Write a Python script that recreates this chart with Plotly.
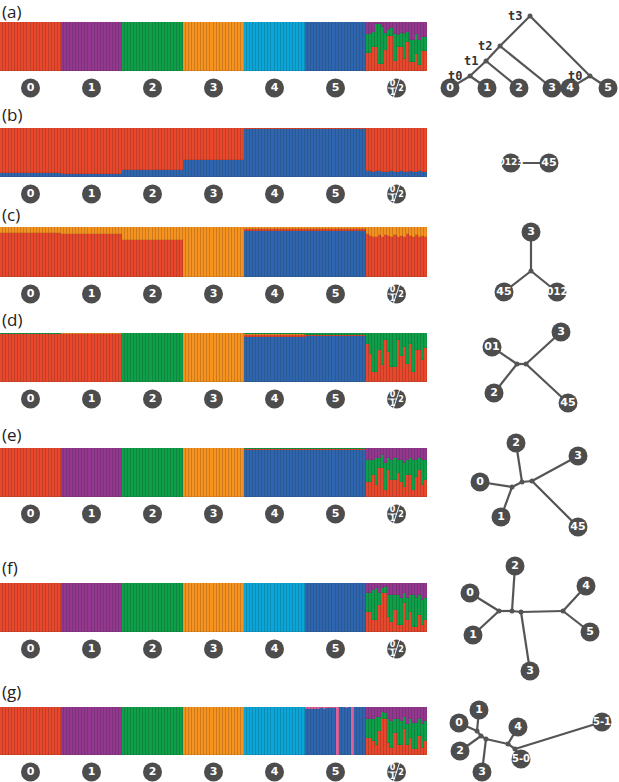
import plotly.graph_objects as go

W, H = 619, 782
BAR_W_PX = 427
N_PER_GROUP = 20
N_GROUPS = 7
N_TOTAL = N_PER_GROUP * N_GROUPS

COLORS = {"red": "#E8472B", "purple": "#93378F", "green": "#0E9F49", "orange": "#F6921E",
          "cyan": "#0BA6D8", "blue": "#2E65AF", "pink": "#E0629B"}
DARK = "#4D4D4D"
GROUP_LABELS = ["0", "1", "2", "3", "4", "5"]
PANEL_LABELS = ["(a)", "(b)", "(c)", "(d)", "(e)", "(f)", "(g)"]

# ---------------- ancestry proportions: group-level (groups 0..5) + admixed individuals ----------------
# panel (a)
A_CYAN = [0, 0, 0, 0, 1, 0]
A_BLUE = [0, 0, 0, 0, 0, 1]
A_RED = [1, 0, 0, 0, 0, 0]
A_GREEN = [0, 0, 1, 0, 0, 0]
A_PURPLE = [0, 1, 0, 0, 0, 0]
A_ORANGE = [0, 0, 0, 1, 0, 0]
A_ADMIX_RED = [0.36, 0.36, 0.50, 0.50, 0.15, 0.15, 0.42, 0.72, 0.72, 0.20, 0.48, 0.48, 0.25, 0.60, 0.18, 0.18, 0.35, 0.12, 0.40, 0.40]
A_ADMIX_GREEN = [0.40, 0.40, 0.30, 0.45, 0.80, 0.75, 0.35, 0.12, 0.15, 0.55, 0.25, 0.30, 0.50, 0.20, 0.45, 0.45, 0.40, 0.52, 0.30, 0.30]
A_ADMIX_PURPLE = [0.24, 0.24, 0.20, 0.05, 0.05, 0.10, 0.23, 0.16, 0.13, 0.25, 0.27, 0.22, 0.25, 0.20, 0.37, 0.37, 0.25, 0.36, 0.30, 0.30]

# panel (b)
B_BLUE = [0.08, 0.07, 0.14, 0.35, 0.97, 0.98]
B_RED = [0.92, 0.93, 0.86, 0.65, 0.03, 0.02]
B_ADMIX_BLUE = [0.12, 0.12, 0.11, 0.12, 0.12, 0.11, 0.10, 0.11, 0.12, 0.10, 0.11, 0.12, 0.10, 0.11, 0.12, 0.10, 0.11, 0.12, 0.10, 0.11]
B_ADMIX_RED = [0.88, 0.88, 0.89, 0.88, 0.88, 0.89, 0.90, 0.89, 0.88, 0.90, 0.89, 0.88, 0.90, 0.89, 0.88, 0.90, 0.89, 0.88, 0.90, 0.89]

# panel (c)
C_BLUE = [0.01, 0.01, 0.01, 0.0, 0.92, 0.93]
C_RED = [0.88, 0.86, 0.73, 0.01, 0.04, 0.04]
C_ORANGE = [0.11, 0.13, 0.26, 0.99, 0.04, 0.03]
C_ADMIX_BLUE = [0.01, 0.01, 0.01, 0.01, 0.01, 0.01, 0.01, 0.01, 0.01, 0.01, 0.01, 0.01, 0.01, 0.01, 0.01, 0.01, 0.01, 0.01, 0.01, 0.01]
C_ADMIX_RED = [0.86, 0.82, 0.80, 0.80, 0.84, 0.79, 0.83, 0.81, 0.80, 0.84, 0.80, 0.82, 0.79, 0.85, 0.81, 0.80, 0.83, 0.80, 0.82, 0.79]
C_ADMIX_ORANGE = [0.13, 0.17, 0.19, 0.19, 0.15, 0.20, 0.16, 0.18, 0.19, 0.15, 0.19, 0.17, 0.20, 0.14, 0.18, 0.19, 0.16, 0.19, 0.17, 0.20]

# panel (d)
D_BLUE = [0.01, 0.01, 0.0, 0.0, 0.91, 0.94]
D_RED = [0.96, 0.96, 0.01, 0.01, 0.05, 0.01]
D_ORANGE = [0.01, 0.02, 0.0, 0.98, 0.01, 0.01]
D_GREEN = [0.02, 0.01, 0.99, 0.01, 0.03, 0.04]
D_ADMIX_RED = [0.78, 0.58, 0.20, 0.20, 0.65, 0.34, 0.85, 0.61, 0.30, 0.30, 0.85, 0.54, 0.71, 0.37, 0.78, 0.20, 0.65, 0.65, 0.45, 0.70]
D_ADMIX_GREEN = [0.22, 0.42, 0.80, 0.80, 0.35, 0.66, 0.15, 0.39, 0.70, 0.70, 0.15, 0.46, 0.29, 0.63, 0.22, 0.80, 0.35, 0.35, 0.55, 0.30]

# panel (e)
E_BLUE = [0, 0, 0, 0, 0.95, 0.96]
E_RED = [0.99, 0, 0, 0, 0.03, 0.02]
E_GREEN = [0, 0, 0.99, 0, 0.02, 0.02]
E_PURPLE = [0.01, 1, 0.01, 0, 0, 0]
E_ORANGE = [0, 0, 0, 1, 0, 0]
E_ADMIX_RED = [0.30, 0.30, 0.45, 0.25, 0.60, 0.60, 0.15, 0.55, 0.35, 0.35, 0.50, 0.30, 0.20, 0.45, 0.45, 0.15, 0.40, 0.55, 0.25, 0.35]
E_ADMIX_GREEN = [0.45, 0.45, 0.30, 0.55, 0.20, 0.25, 0.55, 0.25, 0.40, 0.45, 0.25, 0.45, 0.50, 0.30, 0.35, 0.60, 0.35, 0.25, 0.50, 0.40]
E_ADMIX_PURPLE = [0.25, 0.25, 0.25, 0.20, 0.20, 0.15, 0.30, 0.20, 0.25, 0.20, 0.25, 0.25, 0.30, 0.25, 0.20, 0.25, 0.25, 0.20, 0.25, 0.25]

# panel (f)
F_CYAN = [0, 0, 0, 0, 1, 0]
F_BLUE = [0, 0, 0, 0, 0, 1]
F_RED = [1, 0, 0, 0, 0, 0]
F_GREEN = [0, 0, 1, 0, 0, 0]
F_PURPLE = [0, 1, 0, 0, 0, 0]
F_ORANGE = [0, 0, 0, 1, 0, 0]
F_ADMIX_RED = [0.40, 0.40, 0.25, 0.25, 0.55, 0.80, 0.80, 0.30, 0.20, 0.45, 0.15, 0.15, 0.60, 0.25, 0.40, 0.10, 0.10, 0.35, 0.15, 0.25]
F_ADMIX_GREEN = [0.40, 0.40, 0.60, 0.65, 0.25, 0.10, 0.12, 0.45, 0.55, 0.30, 0.60, 0.55, 0.20, 0.45, 0.35, 0.65, 0.60, 0.40, 0.50, 0.45]
F_ADMIX_PURPLE = [0.20, 0.20, 0.15, 0.10, 0.20, 0.10, 0.08, 0.25, 0.25, 0.25, 0.25, 0.30, 0.20, 0.30, 0.25, 0.25, 0.30, 0.25, 0.35, 0.30]

# panel (g)
G_CYAN = [0, 0, 0, 0, 1, 0]
G_RED = [1, 0, 0, 0, 0, 0]
G_GREEN = [0, 0, 1, 0, 0, 0]
G_PURPLE = [0, 1, 0, 0, 0, 0]
G_ORANGE = [0, 0, 0, 1, 0, 0]
G_GROUP5_BLUE = [0.95, 0.96, 0.95, 0.96, 0.95, 0.97, 0.96, 0.97, 0.98, 0.98, 0.0, 0.99, 0.99, 0.98, 0.99, 0.0, 0.99, 0.99, 0.99, 0.99]
G_GROUP5_PINK = [0.05, 0.04, 0.05, 0.04, 0.05, 0.03, 0.04, 0.03, 0.02, 0.02, 1.0, 0.01, 0.01, 0.02, 0.01, 1.0, 0.01, 0.01, 0.01, 0.01]
G_ADMIX_RED = [0.35, 0.35, 0.30, 0.20, 0.50, 0.75, 0.75, 0.25, 0.15, 0.45, 0.20, 0.20, 0.55, 0.20, 0.35, 0.12, 0.12, 0.40, 0.15, 0.30]
G_ADMIX_GREEN = [0.40, 0.40, 0.45, 0.60, 0.30, 0.15, 0.12, 0.50, 0.55, 0.30, 0.55, 0.50, 0.25, 0.45, 0.40, 0.55, 0.55, 0.35, 0.50, 0.40]
G_ADMIX_PURPLE = [0.25, 0.25, 0.25, 0.20, 0.20, 0.10, 0.13, 0.25, 0.30, 0.25, 0.25, 0.30, 0.20, 0.35, 0.25, 0.33, 0.33, 0.25, 0.35, 0.30]

ZERO6 = [0, 0, 0, 0, 0, 0]
ZERO20 = [0] * N_PER_GROUP

# stacking order bottom -> top: (colour, group values, admixed values, optional per-individual group-5 override)
PANELS = [
    [("cyan", A_CYAN, ZERO20, None), ("blue", A_BLUE, ZERO20, None), ("red", A_RED, A_ADMIX_RED, None),
     ("green", A_GREEN, A_ADMIX_GREEN, None), ("purple", A_PURPLE, A_ADMIX_PURPLE, None), ("orange", A_ORANGE, ZERO20, None)],
    [("blue", B_BLUE, B_ADMIX_BLUE, None), ("red", B_RED, B_ADMIX_RED, None)],
    [("blue", C_BLUE, C_ADMIX_BLUE, None), ("red", C_RED, C_ADMIX_RED, None), ("orange", C_ORANGE, C_ADMIX_ORANGE, None)],
    [("blue", D_BLUE, ZERO20, None), ("red", D_RED, D_ADMIX_RED, None), ("orange", D_ORANGE, ZERO20, None),
     ("green", D_GREEN, D_ADMIX_GREEN, None)],
    [("blue", E_BLUE, ZERO20, None), ("red", E_RED, E_ADMIX_RED, None), ("green", E_GREEN, E_ADMIX_GREEN, None),
     ("purple", E_PURPLE, E_ADMIX_PURPLE, None), ("orange", E_ORANGE, ZERO20, None)],
    [("cyan", F_CYAN, ZERO20, None), ("blue", F_BLUE, ZERO20, None), ("red", F_RED, F_ADMIX_RED, None),
     ("green", F_GREEN, F_ADMIX_GREEN, None), ("purple", F_PURPLE, F_ADMIX_PURPLE, None), ("orange", F_ORANGE, ZERO20, None)],
    [("cyan", G_CYAN, ZERO20, None), ("blue", ZERO6, ZERO20, G_GROUP5_BLUE), ("red", G_RED, G_ADMIX_RED, None),
     ("green", G_GREEN, G_ADMIX_GREEN, None), ("purple", G_PURPLE, G_ADMIX_PURPLE, None), ("orange", G_ORANGE, ZERO20, None),
     ("pink", ZERO6, ZERO20, G_GROUP5_PINK)],
]

# vertical layout of each panel in pixels: (label y, bar top, bar bottom)
PANEL_PX = [(11, 22, 71), (114, 128, 177), (214, 227, 277), (319, 333, 382),
            (434, 448, 497), (567, 583, 632), (691, 707, 755)]

# ---------------- trees (pixel positions in the right column) ----------------
TREES = [
    {"nodes": {"t3": (530, 16), "t2": (500, 46), "t1": (486, 61), "t0a": (470, 76), "t0b": (590, 76),
               "0": (450, 88), "1": (487, 88), "2": (519, 88), "3": (552, 88), "4": (570, 88), "5": (608, 88)},
     "edges": [("t3", "t2"), ("t3", "t0b"), ("t2", "t1"), ("t2", "3"), ("t1", "t0a"), ("t1", "2"),
               ("t0a", "0"), ("t0a", "1"), ("t0b", "4"), ("t0b", "5")],
     "leaves": ["0", "1", "2", "3", "4", "5"],
     "times": {"t3": "t3", "t2": "t2", "t1": "t1", "t0a": "t0", "t0b": "t0"}},
    {"nodes": {"0123": (511, 163), "45": (549, 163)},
     "edges": [("0123", "45")], "leaves": ["0123", "45"]},
    {"nodes": {"3": (531, 232), "c": (531, 271), "45": (504, 292), "012": (557, 292)},
     "edges": [("3", "c"), ("c", "45"), ("c", "012")], "leaves": ["3", "45", "012"]},
    {"nodes": {"01": (492, 347), "3": (561, 332), "2": (494, 393), "45": (568, 403), "n1": (517, 364), "n2": (526, 364)},
     "edges": [("01", "n1"), ("2", "n1"), ("n1", "n2"), ("n2", "3"), ("n2", "45")], "leaves": ["01", "3", "2", "45"]},
    {"nodes": {"2": (516, 443), "3": (578, 456), "0": (480, 482), "1": (501, 517), "45": (578, 527),
               "n1": (512, 487), "n2": (522, 482), "n3": (532, 481)},
     "edges": [("0", "n1"), ("1", "n1"), ("n1", "n2"), ("2", "n2"), ("n2", "n3"), ("3", "n3"), ("45", "n3")],
     "leaves": ["2", "3", "0", "1", "45"]},
    {"nodes": {"2": (515, 566), "0": (470, 593), "4": (586, 586), "1": (473, 635), "5": (590, 632), "3": (530, 671),
               "n1": (499, 611), "n2": (512, 611), "n3": (521, 612), "n4": (563, 611)},
     "edges": [("0", "n1"), ("1", "n1"), ("n1", "n2"), ("2", "n2"), ("n2", "n3"), ("3", "n3"), ("n3", "n4"),
               ("4", "n4"), ("5", "n4")],
     "leaves": ["2", "0", "4", "1", "5", "3"]},
    {"nodes": {"1": (479, 710), "0": (459, 723), "2": (460, 751), "3": (482, 772), "4": (518, 727),
               "5-0": (521, 759), "5-1": (602, 722), "n1": (477, 731), "n2": (481, 736), "n3": (486, 739),
               "n4": (508, 744), "n5": (515, 749)},
     "edges": [("1", "n1"), ("0", "n1"), ("n1", "n2"), ("2", "n2"), ("n2", "n3"), ("3", "n3"), ("n3", "n4"),
               ("4", "n4"), ("n4", "n5"), ("n5", "5-0"), ("n5", "5-1")],
     "leaves": ["1", "0", "2", "3", "4", "5-0", "5-1"]},
]

fig = go.Figure()
layout = dict(width=W, height=H, margin=dict(l=0, r=0, t=0, b=0, autoexpand=False), paper_bgcolor="white",
              plot_bgcolor="rgba(0,0,0,0)", showlegend=False, barmode="stack", bargap=0)

x_idx = list(range(N_TOTAL))
for p, comps in enumerate(PANELS):
    ax = p + 1
    xa, ya = ("x" if ax == 1 else f"x{ax}"), ("y" if ax == 1 else f"y{ax}")
    _, top, bot = PANEL_PX[p]
    for cname, gvals, admix, g5 in comps:
        ys = []
        for g in range(6):
            if g == 5 and g5 is not None:
                ys.extend(g5)
            else:
                ys.extend([gvals[g]] * N_PER_GROUP)
        ys.extend(admix)
        ys = [v if v > 0 else None for v in ys]
        fig.add_trace(go.Bar(x=x_idx, y=ys, width=1, xaxis=xa, yaxis=ya,
                             marker=dict(color=COLORS[cname], line=dict(width=0.35, color="rgba(40,40,40,0.3)")),
                             hoverinfo="skip"))
    layout[f"xaxis{'' if ax == 1 else ax}"] = dict(domain=[0, BAR_W_PX / W], range=[-0.5, N_TOTAL - 0.5],
                                                    visible=False, fixedrange=True)
    layout[f"yaxis{'' if ax == 1 else ax}"] = dict(domain=[1 - bot / H, 1 - top / H], range=[0, 1],
                                                    visible=False, fixedrange=True, anchor=xa)

# overlay axis in pixel space
layout["xaxis8"] = dict(domain=[0, 1], range=[0, W], visible=False, anchor="y8", fixedrange=True)
layout["yaxis8"] = dict(domain=[0, 1], range=[H, 0], visible=False, anchor="x8", fixedrange=True)

annotations = []
lab_x, lab_y, lab_t = [], [], []
icon_x, icon_y = [], []
icon_lines_x, icon_lines_y = [], []
small_x, small_y, small_t = [], [], []
for p in range(7):
    ly, top, bot = PANEL_PX[p]
    annotations.append(dict(x=0, y=ly, xref="x8", yref="y8", text=PANEL_LABELS[p], showarrow=False,
                            xanchor="left", yanchor="middle",
                            font=dict(family="Open Sans, DejaVu Sans", size=17, color="#222")))
    cy = bot + 17
    for g in range(7):
        cx = (g * N_PER_GROUP + N_PER_GROUP / 2) / N_TOTAL * BAR_W_PX
        if g < 6:
            lab_x.append(cx); lab_y.append(cy); lab_t.append(GROUP_LABELS[g])
        else:
            icon_x.append(cx); icon_y.append(cy)
            icon_lines_x += [cx + 3, cx - 3, None, cx - 9, cx, None]
            icon_lines_y += [cy - 9, cy + 9, None, cy, cy, None]
            small_x += [cx - 4, cx - 4, cx + 4.5]
            small_y += [cy - 4, cy + 4.5, cy + 0.5]
            small_t += ["0", "1", "2"]

fig.add_trace(go.Scatter(x=lab_x, y=lab_y, text=lab_t, mode="markers+text", xaxis="x8", yaxis="y8",
                         marker=dict(size=19, color=DARK), textposition="middle center",
                         textfont=dict(family="DejaVu Sans", size=11, color="white", weight="bold"),
                         hoverinfo="skip"))
fig.add_trace(go.Scatter(x=icon_x, y=icon_y, mode="markers", xaxis="x8", yaxis="y8",
                         marker=dict(size=19, color=DARK), hoverinfo="skip"))
fig.add_trace(go.Scatter(x=icon_lines_x, y=icon_lines_y, mode="lines", xaxis="x8", yaxis="y8",
                         line=dict(color="white", width=1), hoverinfo="skip"))
fig.add_trace(go.Scatter(x=small_x, y=small_y, text=small_t, mode="text", xaxis="x8", yaxis="y8",
                         textfont=dict(family="DejaVu Sans", size=8, color="white", weight="bold"),
                         hoverinfo="skip"))

# trees
ex, ey = [], []
dot_x, dot_y = [], []
leaf_x, leaf_y, leaf_t, leaf_fs = [], [], [], []
for tree in TREES:
    nodes = tree["nodes"]
    for a, b in tree["edges"]:
        ex += [nodes[a][0], nodes[b][0], None]
        ey += [nodes[a][1], nodes[b][1], None]
    for name, (x, y) in nodes.items():
        if name in tree["leaves"]:
            leaf_x.append(x); leaf_y.append(y); leaf_t.append(name)
            leaf_fs.append(11 if len(name) <= 2 else (10 if len(name) == 3 else 9))
        else:
            dot_x.append(x); dot_y.append(y)
    for key, txt in tree.get("times", {}).items():
        annotations.append(dict(x=nodes[key][0] - 6, y=nodes[key][1], xref="x8", yref="y8", text=txt,
                                showarrow=False, xanchor="right", yanchor="middle",
                                font=dict(family="DejaVu Sans Mono", size=12, color="#333", weight="bold")))

fig.add_trace(go.Scatter(x=ex, y=ey, mode="lines", xaxis="x8", yaxis="y8",
                         line=dict(color="#555555", width=2.2), hoverinfo="skip"))
fig.add_trace(go.Scatter(x=dot_x, y=dot_y, mode="markers", xaxis="x8", yaxis="y8",
                         marker=dict(size=5, color="#555555"), hoverinfo="skip"))
fig.add_trace(go.Scatter(x=leaf_x, y=leaf_y, text=leaf_t, mode="markers+text", xaxis="x8", yaxis="y8",
                         marker=dict(size=19, color=DARK), textposition="middle center",
                         textfont=dict(family="DejaVu Sans", size=leaf_fs, color="white", weight="bold"),
                         hoverinfo="skip", cliponaxis=False))

layout["annotations"] = annotations
fig.update_layout(**layout)
fig.write_html("out.html", config={"displayModeBar": False},
               post_script="document.body.style.margin='0';document.body.style.overflow='hidden';")
